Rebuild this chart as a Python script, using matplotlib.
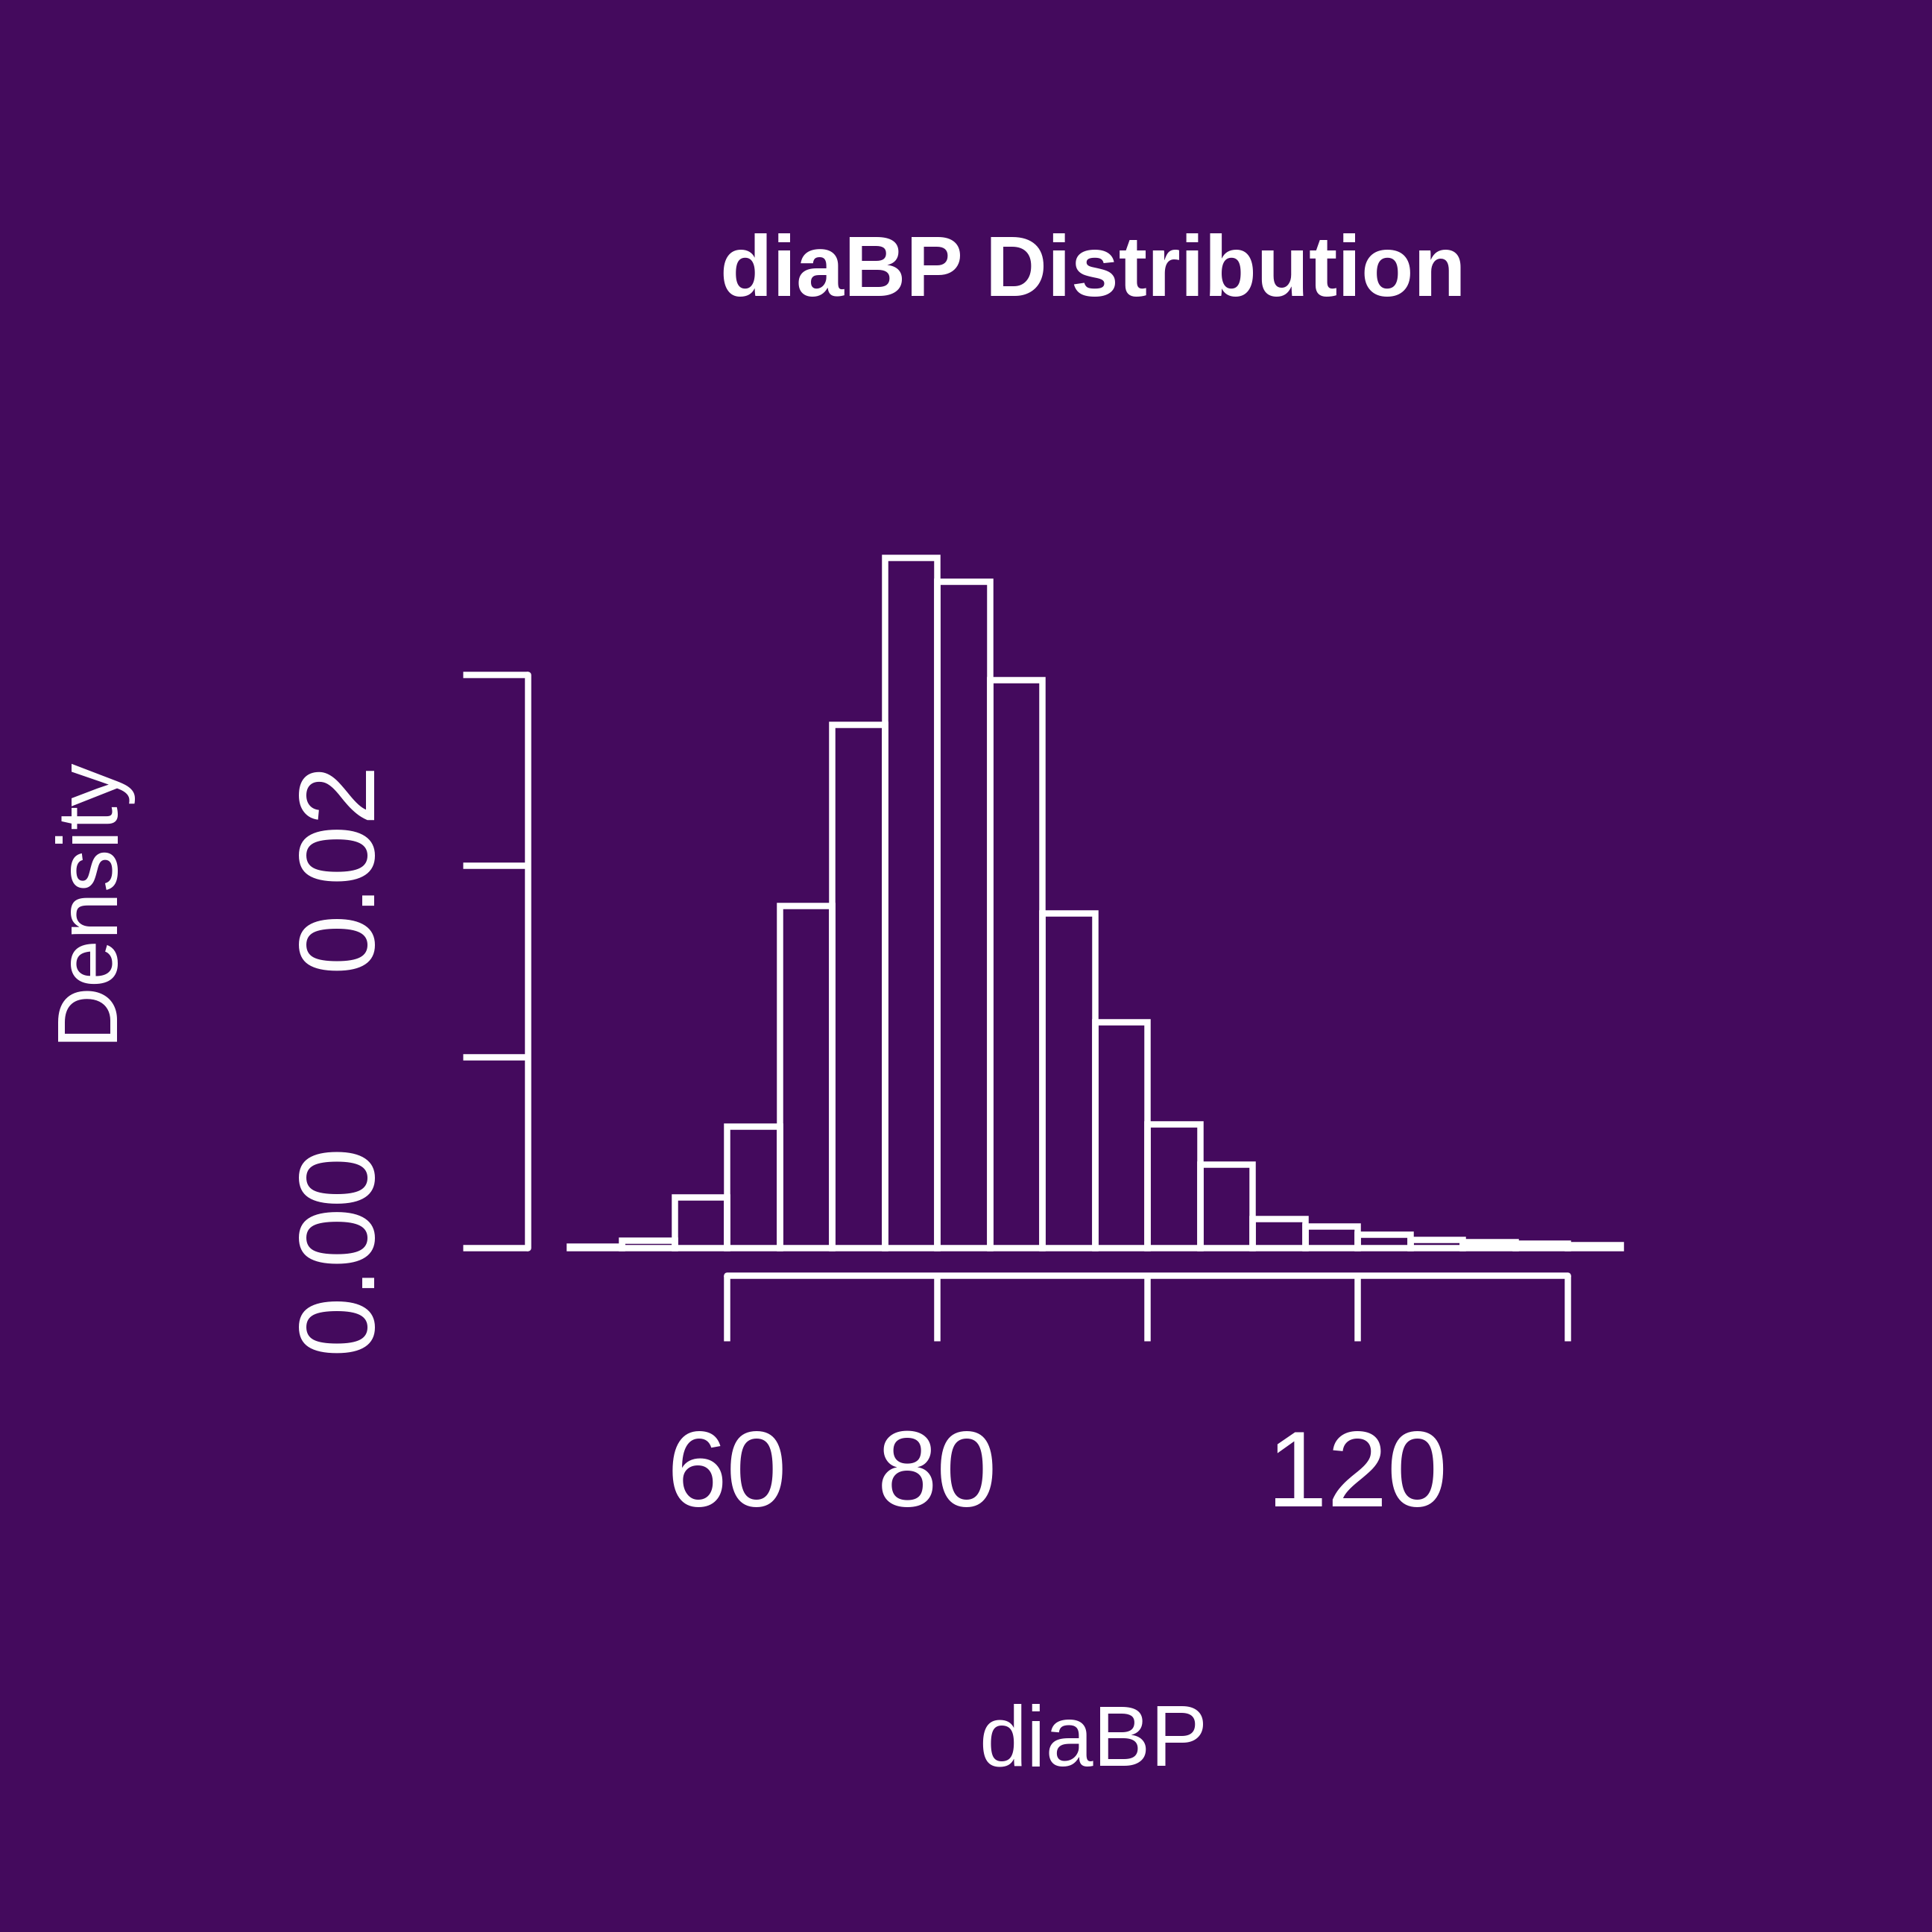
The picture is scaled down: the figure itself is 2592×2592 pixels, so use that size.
import matplotlib.pyplot as plt

# histogram of diastolic blood pressure, density scale
bin_edges = [45, 50, 55, 60, 65, 70, 75, 80, 85, 90, 95, 100,
             105, 110, 115, 120, 125, 130, 135, 140, 145]
density = [0.00008, 0.00037, 0.00266, 0.00635, 0.01790, 0.02738, 0.03613,
           0.03487, 0.02975, 0.01750, 0.01183, 0.00647, 0.00438, 0.00152,
           0.00112, 0.00069, 0.00042, 0.00029, 0.00021, 0.00014]

x_ticks = [60, 80, 100, 120, 140]
x_tick_labels = ["60", "80", "", "120", ""]
y_ticks = [0.00, 0.01, 0.02, 0.03]
y_tick_labels = ["0.00", "", "0.02", ""]

bg = "#440A5D"
fg = "white"
lw = 1.7
plt.rcParams["font.family"] = ["Liberation Sans", "DejaVu Sans"]

fig = plt.figure(figsize=(7.2, 7.2), dpi=360)
fig.patch.set_facecolor(bg)
ax = fig.add_axes([0.2730, 0.3399, 0.5874, 0.3865])
ax.set_facecolor(bg)

widths = [b - a for a, b in zip(bin_edges[:-1], bin_edges[1:])]
ax.bar(bin_edges[:-1], density, width=widths, align="edge", fill=False,
       edgecolor=fg, linewidth=lw, capstyle="round")

# R style: 4% padding around the data range, detached axes
ax.set_xlim(41, 149)
ax.set_ylim(-0.00145, 0.03765)

for side in ["top", "right"]:
    ax.spines[side].set_visible(False)
for side in ["left", "bottom"]:
    ax.spines[side].set_color(fg)
    ax.spines[side].set_linewidth(lw)
    ax.spines[side].set_capstyle("round")
ax.spines["left"].set_bounds(0, 0.03)
ax.spines["bottom"].set_bounds(60, 140)

ax.set_xticks(x_ticks)
ax.set_xticklabels(x_tick_labels)
ax.set_yticks(y_ticks)
ax.set_yticklabels(y_tick_labels, rotation=90, va="center")
ax.tick_params(axis="both", direction="out", length=17.5, width=lw,
               colors=fg, labelsize=29)
ax.tick_params(axis="x", pad=23.5)
ax.tick_params(axis="y", pad=18.5)

fig.text(0.5657, 0.847, "diaBP Distribution", ha="center", va="baseline",
         fontsize=23, fontweight="bold", color=fg)
fig.text(0.5657, 0.0861, "diaBP", ha="center", va="baseline",
         fontsize=23, color=fg)
fig.text(0.0574, 0.535, "Density", ha="center", va="baseline", rotation=90,
         rotation_mode="anchor", fontsize=23, color=fg)

plt.savefig("out.png", dpi=360, facecolor=bg)
